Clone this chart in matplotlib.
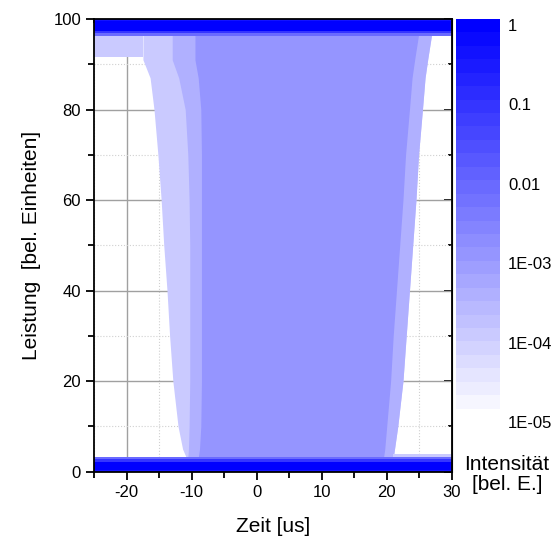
import numpy as np
import matplotlib
matplotlib.use("Agg")
import matplotlib.pyplot as plt
from matplotlib.colors import LinearSegmentedColormap, LogNorm
from matplotlib.cm import ScalarMappable

plt.rcParams['font.family'] = ['Liberation Sans', 'DejaVu Sans']
plt.rcParams['axes.unicode_minus'] = False

# --- trace bundle envelope (power level -> time in us)
levels      = [3.0, 5.0, 10.0, 20.0, 30.0, 40.0, 50.0, 60.0, 70.0, 80.0, 87.0, 91.0, 96.5]
outer_left  = [-10.8, -11.4, -12.1, -12.9, -13.4, -13.8, -14.3, -14.7, -15.2, -15.8, -16.4, -17.5, -17.5]
mid_left    = [-10.6, -10.5, -10.4, -10.3, -10.3, -10.3, -10.3, -10.4, -10.6, -11.0, -12.0, -13.0, -13.0]
core_left   = [-9.0, -8.8, -8.6, -8.5, -8.5, -8.5, -8.5, -8.5, -8.5, -8.6, -9.0, -9.5, -9.5]
core_right  = [19.5, 19.7, 20.0, 20.6, 21.0, 21.5, 22.0, 22.5, 22.9, 23.5, 23.9, 24.3, 24.9]
outer_right = [21.0, 21.2, 21.7, 22.5, 23.0, 23.5, 24.0, 24.5, 24.9, 25.5, 25.9, 26.3, 26.9]

# intensity of each region [bel. E.]
sparse_int = 1.5e-4
mid_int = 4e-4
core_int = 1.2e-3

# horizontal bands (idle levels before/after the pulse)
time_range = [-25.0, 30.0]
top_edges = [96.2, 96.8, 97.3, 99.5, 100.0]
top_vals = [0.01, 0.1, 1.0, 0.5]
bottom_edges = [0.0, 0.4, 2.2, 2.7, 3.2]
bottom_vals = [0.5, 1.0, 0.1, 0.01]

# small extra patches
strip_left = [-25.0, -17.5]      # light strip below the top band
strip_levels = [91.5, 96.5]
tail_right = [21.0, 30.0]        # light tail above the bottom band
tail_levels = [3.0, 3.8]

cbar_ticks = [1e-5, 1e-4, 1e-3, 1e-2, 1e-1, 1]
cbar_labels = ['1E-05', '1E-04', '1E-03', '0.01', '0.1', '1']

cmap = LinearSegmentedColormap.from_list('wb', ['#ffffff', '#0000ff'], N=30)
norm = LogNorm(vmin=1e-5, vmax=1.19)


def col(v):
    return cmap(norm(v))


fig = plt.figure(figsize=(5.6, 5.38), dpi=100)
W, H = 560.0, 538.0
ax = fig.add_axes([94.2 / W, (H - 471.7) / H, (451.7 - 94.2) / W, (471.7 - 19) / H])

# trace density regions
ax.fill_betweenx(levels, outer_left, outer_right, color=col(sparse_int), lw=0)
ax.fill_betweenx(levels, mid_left, outer_right, color=col(mid_int), lw=0)
ax.fill_betweenx(levels, core_left, core_right, color=col(core_int), lw=0)
ax.fill_between(strip_left, strip_levels[0], strip_levels[1], color=col(sparse_int), lw=0)
ax.fill_between(tail_right, tail_levels[0], tail_levels[1], color=col(sparse_int), lw=0)

# idle level bands
ax.pcolormesh(time_range, top_edges, np.array(top_vals)[:, None], cmap=cmap, norm=norm)
ax.pcolormesh(time_range, bottom_edges, np.array(bottom_vals)[:, None], cmap=cmap, norm=norm)

ax.set_xlim(-25, 30)
ax.set_ylim(0, 100)
ax.set_xticks(np.arange(-20, 31, 10))
ax.set_xticks(np.arange(-25, 31, 5), minor=True)
ax.set_yticks(np.arange(0, 101, 20))
ax.set_yticks(np.arange(0, 101, 10), minor=True)

ax.set_axisbelow(True)
ax.grid(True, which='major', color='#a0a0a0', lw=1.0, ls='-')
ax.grid(True, which='minor', color='#d0d0d0', lw=0.8, ls=':')

ax.tick_params(which='both', direction='out', width=1.3, labelsize=12, colors='black')
ax.tick_params(which='major', length=6)
ax.tick_params(which='minor', length=4)
for s in ax.spines.values():
    s.set_linewidth(1.3)

# inward ticks on top and right
top = ax.secondary_xaxis('top')
top.set_xticks(np.arange(-20, 31, 10))
top.set_xticks(np.arange(-25, 31, 5), minor=True)
top.tick_params(which='both', direction='in', width=1.3, labeltop=False)
top.tick_params(which='major', length=6)
top.tick_params(which='minor', length=3)
right = ax.secondary_yaxis('right')
right.set_yticks(np.arange(0, 101, 20))
right.set_yticks(np.arange(0, 101, 10), minor=True)
right.tick_params(which='both', direction='in', width=1.3, labelright=False)
right.tick_params(which='major', length=6)
right.tick_params(which='minor', length=3)

ax.set_xlabel('Zeit [us]', fontsize=15, labelpad=12)
ax.set_ylabel('Leistung  [bel. Einheiten]', fontsize=15, labelpad=9)

# colour bar
cax = fig.add_axes([455.7 / W, (H - 422) / H, 44.0 / W, (422 - 19) / H])
sm = ScalarMappable(norm=norm, cmap=cmap)
cbar = fig.colorbar(sm, cax=cax)
cbar.outline.set_visible(False)
cbar.set_ticks(cbar_ticks)
cbar.set_ticklabels(cbar_labels)
cbar.ax.minorticks_off()
cbar.ax.tick_params(length=0, pad=6, labelsize=12)

fig.text(507 / W, 1 - 474.5 / H, 'Intensität\n[bel. E.]', ha='center', va='center',
         fontsize=15, linespacing=1.05)

fig.savefig('out.png', dpi=100)
